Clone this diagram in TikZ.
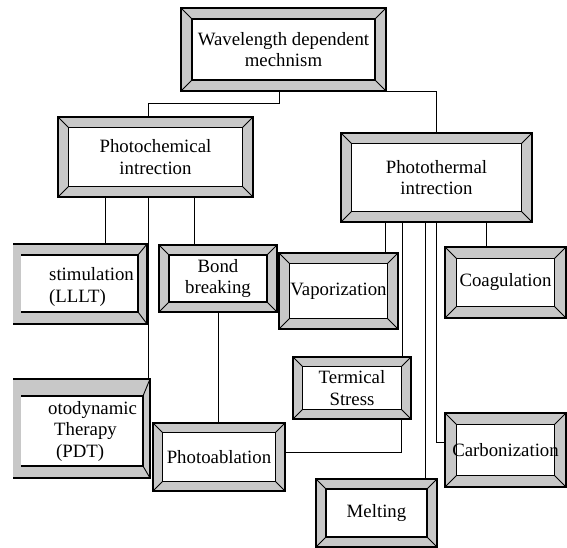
\documentclass[tikz,border=0pt]{standalone}
\usepackage{fontspec}
\setmainfont{Liberation Serif}
\usetikzlibrary{calc}
\definecolor{bgray}{RGB}{200,200,200}
\tikzset{
  txt/.style={font=\fontsize{18.8pt}{21.5pt}\selectfont, inner sep=0pt},
  outerline/.style={line width=1.6pt, line join=miter},
  innerline/.style={line width=1.4pt},
  diag/.style={line width=0.9pt},
  conn/.style={line width=1pt},
  bevelbox/.style={draw=black, outerline, fill=bgray, inner sep=0pt, txt, align=center,
    path picture={
      \fill[white] ([shift={(#1,-#1)}]path picture bounding box.north west) rectangle ([shift={(-#1,#1)}]path picture bounding box.south east);
      \draw[innerline] ([shift={(#1,-#1)}]path picture bounding box.north west) rectangle ([shift={(-#1,#1)}]path picture bounding box.south east);
      \draw[diag] (path picture bounding box.north west) -- ++(#1,-#1)
                  (path picture bounding box.north east) -- ++(-#1,-#1)
                  (path picture bounding box.south west) -- ++(#1,#1)
                  (path picture bounding box.south east) -- ++(-#1,#1);
    }},
}
\begin{document}
\begin{tikzpicture}[x=1pt,y=-1pt]
\useasboundingbox (0,0) rectangle (567,548);

% boxes
\node[bevelbox=11pt, minimum width=205pt, minimum height=83pt] (top) at (283.5,49.5) {Wavelength dependent\\mechnism};
\node[bevelbox=10.5pt, minimum width=195pt, minimum height=80pt] (pchem) at (155.5,157) {Photochemical\\intrection};
\node[bevelbox=10.5pt, minimum width=191pt, minimum height=89pt] (ptherm) at (436.5,177.5) {Photothermal\\intrection};
\node[bevelbox=10pt, minimum width=118pt, minimum height=67pt] (bond) at (218,278.5) {Bond\\breaking};
\node[bevelbox=10.5pt, minimum width=119pt, minimum height=76pt] (vapor) at (338.5,291) {Vaporization};
\node[bevelbox=11.5pt, minimum width=121pt, minimum height=71pt] (coag) at (505.5,282.5) {Coagulation};
\node[bevelbox=9.5pt, minimum width=118pt, minimum height=62pt] (term) at (352,388) {Termical\\Stress};
\node[bevelbox=9.5pt, minimum width=132pt, minimum height=68pt] (pabl) at (219,457) {Photoablation};
\node[bevelbox=11.5pt, minimum width=121pt, minimum height=74pt] (carb) at (505.5,450) {Carbonization};
\node[bevelbox=10pt, minimum width=121pt, minimum height=68pt] (melt) at (376.5,513) {Melting};

% left boxes cut by the picture edge
\node[fill=bgray, inner sep=0pt, minimum width=134pt, minimum height=80pt] (stim) at (80,284) {};
\fill[white] (21,255) rectangle (138,312);
\draw[outerline] (13,244) -| (147,324) -- (13,324);
\draw[innerline] (21,255) -| (138,312) -- (21,312);
\draw[diag] (138,255) -- (147,244) (138,312) -- (147,324);
\node[txt, align=left, anchor=west] (stimt) at (49,287) {stimulation\\(LLLT)};

\node[fill=bgray, inner sep=0pt, minimum width=137pt, minimum height=99pt] (pdt) at (81.5,428.5) {};
\fill[white] (21,396) rectangle (143,466);
\draw[outerline] (13,379) -| (150,478) -- (13,478);
\draw[innerline] (21,396) -| (143,466) -- (21,466);
\draw[diag] (143,396) -- (150,379) (143,466) -- (150,478);
\node[txt, align=left, anchor=west] (pdtt) at (48,431) {otodynamic\\\hspace*{6pt}Therapy\\\hspace*{8pt}(PDT)};

% connectors
\draw[conn] ($(top.south west)+(99,0)$) -- ++(0,12) -| ($(pchem.north west)+(91,0)$);
\draw[conn] ($(top.south west)+(112,0)$) -| (ptherm.north);
\draw[conn] ($(pchem.south west)+(48,0)$) coordinate (a1) -- (a1 |- stim.north);
\draw[conn] ($(pchem.south west)+(91,0)$) coordinate (a2) -- (a2 |- pdt.north);
\draw[conn] ($(pchem.south west)+(137,0)$) coordinate (a3) -- (a3 |- bond.north);
\draw[conn] (bond.south) coordinate (a4) -- (a4 |- pabl.north);
\draw[conn] ($(ptherm.south west)+(45,0)$) coordinate (b1) -- (b1 |- vapor.north);
\draw[conn] ($(ptherm.south west)+(62,0)$) coordinate (b2) -- (b2 |- term.north);
\draw[conn] ($(ptherm.south west)+(85,0)$) coordinate (b3) -- (b3 |- melt.north);
\draw[conn] ($(ptherm.south west)+(96,0)$) |- ($(carb.north west)+(0,30)$);
\draw[conn] ($(ptherm.south west)+(146,0)$) coordinate (b5) -- (b5 |- coag.north);
\draw[conn] ($(term.south west)+(109,0)$) |- ($(pabl.north east)+(0,30)$);
\end{tikzpicture}
\end{document}
